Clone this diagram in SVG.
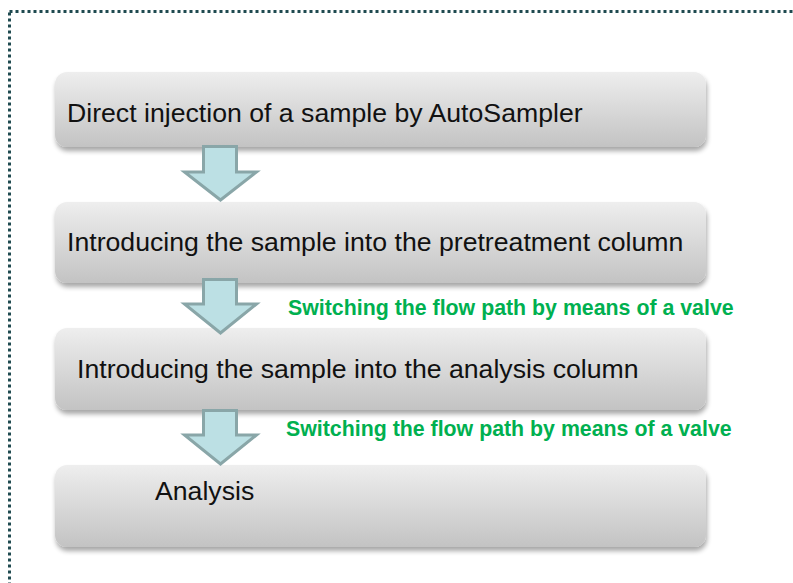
<svg xmlns="http://www.w3.org/2000/svg" width="793" height="583" viewBox="0 0 793 583">
<defs>
<linearGradient id="boxGrad" x1="0" y1="0" x2="0" y2="1">
<stop offset="0" stop-color="#eeeeee"/>
<stop offset="1" stop-color="#c3c3c3"/>
</linearGradient>
<filter id="shadow" x="-5%" y="-10%" width="110%" height="130%">
<feGaussianBlur in="SourceAlpha" stdDeviation="2.5"/>
<feOffset dx="1" dy="4" result="b"/>
<feComponentTransfer><feFuncA type="linear" slope="0.35"/></feComponentTransfer>
<feMerge><feMergeNode/><feMergeNode in="SourceGraphic"/></feMerge>
</filter>
<style>
.box{fill:url(#boxGrad);filter:url(#shadow);}
.lbl{font-family:"Liberation Sans",Arial,sans-serif;font-size:26.67px;fill:#111111;}
.note{font-family:"Liberation Sans",Arial,sans-serif;font-size:21.33px;font-weight:bold;fill:#00b050;}
.arrow{fill:#bce0e4;stroke:#89a6a8;stroke-width:3;stroke-linejoin:miter;}
.frame{fill:none;stroke:#1f4a50;stroke-width:3;stroke-dasharray:3 3;}
</style>
</defs>
<rect class="frame" x="9.5" y="11.5" width="800" height="600"/>
<g id="node1">
<rect class="box" x="55" y="72" width="651" height="75" rx="12"/>
<text class="lbl" x="67" y="122">Direct injection of a sample by AutoSampler</text>
</g>
<g id="node2">
<rect class="box" x="55" y="202" width="651" height="81" rx="12"/>
<text class="lbl" x="67" y="251">Introducing the sample into the pretreatment column</text>
</g>
<g id="node3">
<rect class="box" x="55" y="328" width="651" height="82" rx="12"/>
<text class="lbl" x="77" y="378">Introducing the sample into the analysis column</text>
</g>
<g id="node4">
<rect class="box" x="55" y="465" width="651" height="82" rx="12"/>
<text class="lbl" x="155" y="500">Analysis</text>
</g>
<g id="connectors">
<polygon class="arrow" points="203.5,146.5 236.5,146.5 236.5,172 256.5,172 220.5,200 184.5,172 203.5,172"/>
<polygon class="arrow" points="203.5,279.5 236.5,279.5 236.5,304 256.5,304 220.5,333 184.5,304 203.5,304"/>
<polygon class="arrow" points="203.5,410.5 236.5,410.5 236.5,435 256.5,435 220.5,464 184.5,435 203.5,435"/>
<text class="note" x="288" y="315">Switching the flow path by means of a valve</text>
<text class="note" x="286" y="436">Switching the flow path by means of a valve</text>
</g>
</svg>
